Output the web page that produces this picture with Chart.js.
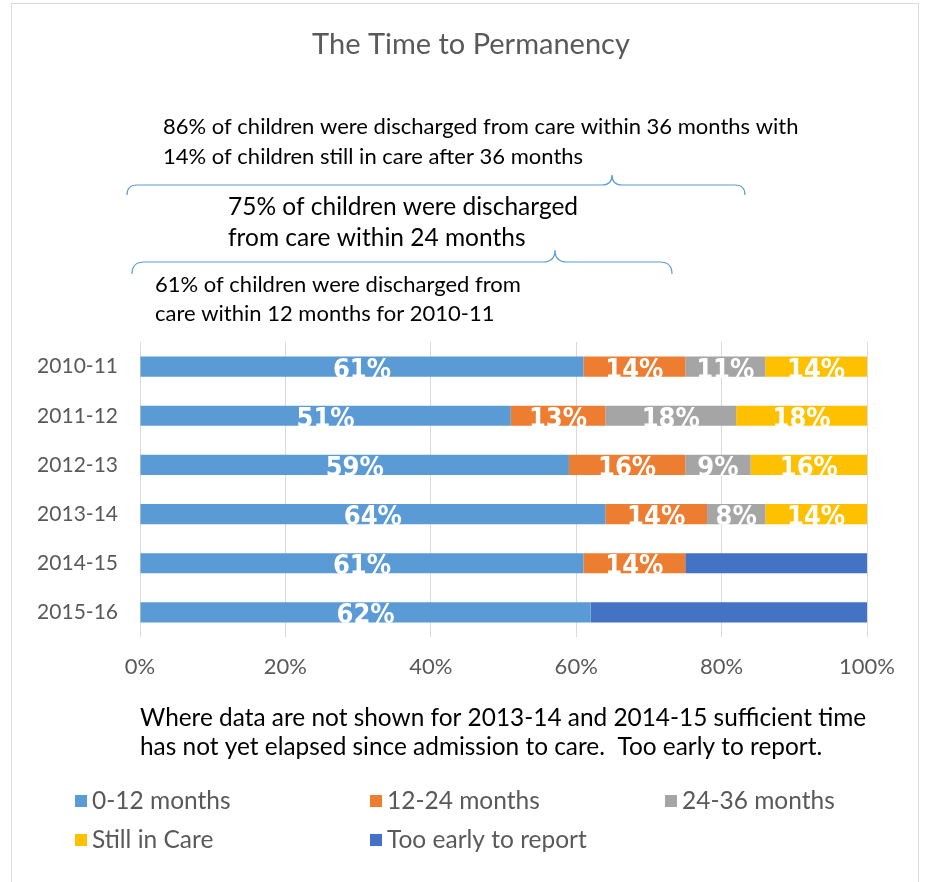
<!DOCTYPE html>
<html>
<head>
<meta charset="utf-8">
<script src="https://cdn.jsdelivr.net/npm/chart.js@4"></script>
<style>
  body { margin: 0; background: #fff; }
  #wrap { position: relative; width: 928px; height: 882px; overflow: hidden; }
  #frame { position: absolute; left: 11px; top: 3px; width: 906px; height: 900px; border: 1px solid #d9d9d9; }
  canvas { position: absolute; left: 0; top: 0; }
</style>
</head>
<body>
<div id="wrap">
  <div id="frame"></div>
  <canvas id="myChart" width="928" height="882"></canvas>
</div>
<script>
// years, top to bottom
const years = ['2010-11', '2011-12', '2012-13', '2013-14', '2014-15', '2015-16'];
const upTo12 = [61, 51, 59, 64, 61, 62];
const from12to24 = [14, 13, 16, 14, 14, null];
const from24to36 = [11, 18, 9, 8, null, null];
const stillInCare = [14, 18, 16, 14, null, null];
const tooEarly = [null, null, null, null, 25, 38];
const tickLabels = ['0%', '20%', '40%', '60%', '80%', '100%'];

const grey = '#595959';
const font = 'Lato, "Open Sans", sans-serif';

// labels inside the bars (white, not on the "too early" part)
const barLabels = {
  id: 'barLabels',
  afterDatasetsDraw(chart) {
    const c = chart.ctx;
    c.save();
    c.fillStyle = '#fff';
    c.font = 'bold 27px "Liberation Sans Narrow", "DejaVu Sans Condensed", sans-serif';
    c.textAlign = 'center';
    c.textBaseline = 'middle';
    chart.data.datasets.forEach((ds, i) => {
      if (ds.noLabel) return;
      chart.getDatasetMeta(i).data.forEach((bar, j) => {
        const v = ds.data[j];
        if (v == null) return;
        c.fillText(v + '%', (bar.x + bar.base) / 2, bar.y + 4);
      });
    });
    c.restore();
  }
};

// curly brace with the tip pointing up
function brace(c, x1, x2, tip, y, h) {
  c.beginPath();
  c.moveTo(x1, y + h);
  c.quadraticCurveTo(x1, y, x1 + h, y);
  c.lineTo(tip - h, y);
  c.quadraticCurveTo(tip, y, tip, y - h);
  c.quadraticCurveTo(tip, y, tip + h, y);
  c.lineTo(x2 - h, y);
  c.quadraticCurveTo(x2, y, x2, y + h);
  c.stroke();
}

// title, notes, braces and legend
const extras = {
  id: 'extras',
  afterDraw(chart) {
    const c = chart.ctx;
    c.save();
    c.textBaseline = 'middle';
    c.fillStyle = grey;
    c.textAlign = 'center';
    c.font = '29px ' + font;
    c.fillText('The Time to Permanency', 471, 45);

    c.textAlign = 'left';
    c.fillStyle = '#000';
    c.font = '22px ' + font;
    c.fillText('86% of children were discharged from care within 36 months with', 163, 127);
    c.fillText('14% of children still in care after 36 months', 163, 157);
    c.font = '24.5px ' + font;
    c.fillText('75% of children were discharged', 228, 207);
    c.fillText('from care within 24 months', 228, 238);
    c.font = '22px ' + font;
    c.fillText('61% of children were discharged from', 155, 285);
    c.fillText('care within 12 months for 2010-11', 155, 314);

    c.font = '24.4px ' + font;
    c.fillText('Where data are not shown for 2013-14 and 2014-15 sufficient time', 140, 718);
    c.fillText('has not yet elapsed since admission to care.  Too early to report.', 140, 747);

    c.strokeStyle = '#5b9bd5';
    c.lineWidth = 1.2;
    brace(c, 127, 745, 612, 185, 10);
    brace(c, 132, 672, 555, 262, 12);

    // legend
    const pos = [[75, 801], [370, 801], [665, 801], [75, 840], [370, 840]];
    c.font = '24.5px ' + font;
    chart.data.datasets.forEach((ds, i) => {
      const [x, y] = pos[i];
      c.fillStyle = ds.backgroundColor;
      c.fillRect(x, y - 6, 12, 12);
      c.fillStyle = grey;
      c.fillText(ds.label, x + 17, y);
    });
    c.restore();
  }
};

new Chart(document.getElementById('myChart'), {
  type: 'bar',
  data: {
    labels: years,
    datasets: [
      { label: '0-12 months', data: upTo12, backgroundColor: '#5b9bd5' },
      { label: '12-24 months', data: from12to24, backgroundColor: '#ed7d31' },
      { label: '24-36 months', data: from24to36, backgroundColor: '#a5a5a5' },
      { label: 'Still in Care', data: stillInCare, backgroundColor: '#ffc000' },
      { label: 'Too early to report', data: tooEarly, backgroundColor: '#4472c4', noLabel: true }
    ]
  },
  options: {
    indexAxis: 'y',
    responsive: false,
    animation: false,
    barPercentage: 0.41,
    categoryPercentage: 1,
    layout: { padding: { top: 342, left: 20, right: 61, bottom: 200 } },
    plugins: { legend: { display: false }, tooltip: { enabled: false } },
    scales: {
      x: {
        stacked: true,
        min: 0,
        max: 100,
        afterFit: (s) => { s.height = 45; },
        grid: { color: '#d9d9d9', drawTicks: false },
        border: { display: false },
        ticks: {
          stepSize: 20,
          padding: 17,
          color: grey,
          font: { family: font, size: 22 },
          callback: (v, i) => tickLabels[i]
        }
      },
      y: {
        stacked: true,
        afterFit: (s) => { s.width = 120; },
        grid: { display: false, drawTicks: false },
        border: { display: false },
        ticks: { padding: 22, color: grey, font: { family: font, size: 21 } }
      }
    }
  },
  plugins: [barLabels, extras]
});
</script>
</body>
</html>
